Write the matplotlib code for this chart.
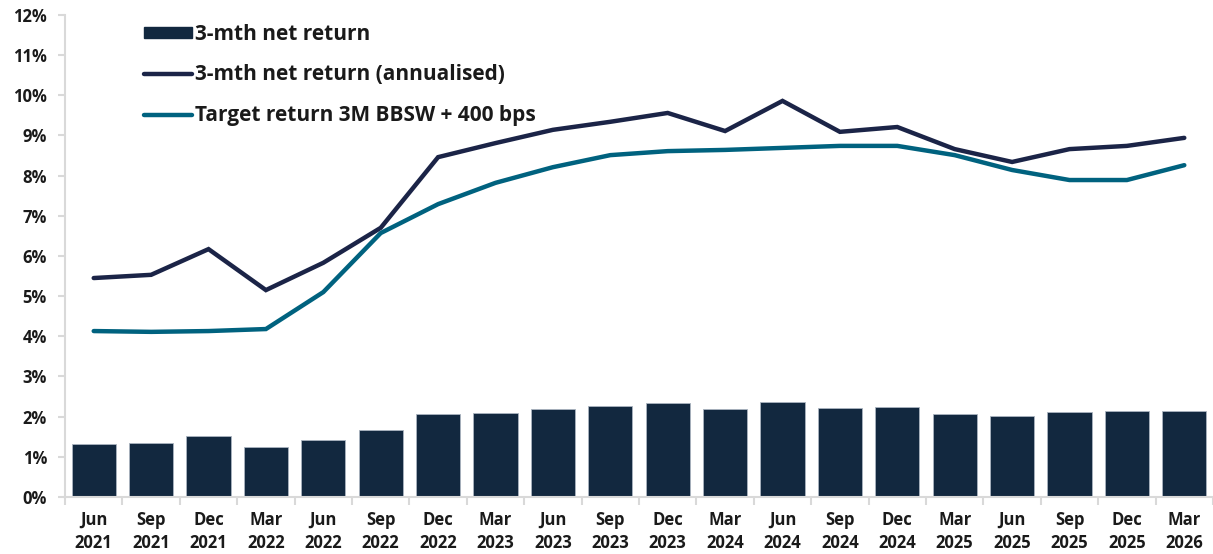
import matplotlib.pyplot as plt
import matplotlib.ticker as mtick
from matplotlib.patches import Patch
from matplotlib.lines import Line2D

plt.rcParams['font.family'] = ['Open Sans', 'DejaVu Sans']
plt.rcParams['font.weight'] = 'bold'

quarters = ["Jun\n2021", "Sep\n2021", "Dec\n2021", "Mar\n2022", "Jun\n2022", "Sep\n2022",
            "Dec\n2022", "Mar\n2023", "Jun\n2023", "Sep\n2023", "Dec\n2023", "Mar\n2024",
            "Jun\n2024", "Sep\n2024", "Dec\n2024", "Mar\n2025", "Jun\n2025", "Sep\n2025",
            "Dec\n2025", "Mar\n2026"]

net_return = [1.32, 1.34, 1.52, 1.24, 1.42, 1.67, 2.07, 2.09, 2.19, 2.27,
              2.34, 2.19, 2.37, 2.22, 2.24, 2.07, 2.02, 2.12, 2.14, 2.14]

net_annualised = [5.45, 5.53, 6.17, 5.15, 5.83, 6.70, 8.46, 8.81, 9.14, 9.34,
                  9.56, 9.11, 9.86, 9.09, 9.21, 8.66, 8.34, 8.66, 8.74, 8.94]

target_return = [4.13, 4.11, 4.13, 4.18, 5.10, 6.57, 7.29, 7.82, 8.21, 8.51,
                 8.61, 8.64, 8.69, 8.74, 8.74, 8.51, 8.14, 7.89, 7.89, 8.26]

BAR_COL = "#12283f"
LINE_COL = "#1b2447"
TARGET_COL = "#00627f"
AXIS_COL = "#d9d9d9"
TEXT_COL = "#1a1a1a"

fig = plt.figure(figsize=(12.13, 5.54), dpi=100)
ax = fig.add_axes([0.0536, 0.103, 0.9464, 0.870])

x = list(range(len(quarters)))
ax.bar(x, net_return, width=0.77, color=BAR_COL, edgecolor="#aab4c0", linewidth=0.6, zorder=2)
ax.plot(x, net_annualised, color=LINE_COL, linewidth=3.2, solid_capstyle="round",
        solid_joinstyle="miter", zorder=3)
ax.plot(x, target_return, color=TARGET_COL, linewidth=3.2, solid_capstyle="round",
        solid_joinstyle="miter", zorder=3)

ax.set_ylim(0, 12)
ax.set_xlim(-0.5, 19.4)
ax.yaxis.set_major_locator(mtick.MultipleLocator(1))
ax.yaxis.set_major_formatter(mtick.FuncFormatter(lambda v, p: f"{v:.0f}%"))

ax.set_xticks(x)
ax.set_xticklabels(quarters, fontsize=12, fontweight="bold", color=TEXT_COL, linespacing=1.35)
ax.set_xticks([i + 0.5 for i in range(-1, len(quarters))], minor=True)
ax.tick_params(axis="x", which="major", length=0, pad=10)
ax.tick_params(axis="x", which="minor", length=6, width=1.5, color=AXIS_COL)
ax.tick_params(axis="y", length=5, width=1.5, color=AXIS_COL, labelsize=12, pad=8,
               labelcolor=TEXT_COL)
for lab in ax.get_yticklabels():
    lab.set_fontweight("bold")

for side in ["top", "right"]:
    ax.spines[side].set_visible(False)
for side in ["left", "bottom"]:
    ax.spines[side].set_color(AXIS_COL)
    ax.spines[side].set_linewidth(1.5)

handles = [
    Patch(facecolor=BAR_COL, edgecolor=BAR_COL),
    Line2D([0], [0], color=LINE_COL, linewidth=3.2, solid_capstyle="round"),
    Line2D([0], [0], color=TARGET_COL, linewidth=3.2, solid_capstyle="round"),
]
labels = ["3-mth net return", "3-mth net return (annualised)", "Target return 3M BBSW + 400 bps"]
leg = ax.legend(handles, labels, loc="upper left", bbox_to_anchor=(0.0688, 0.982), frameon=False,
                fontsize=15, handlelength=2.3, handleheight=0.45, handletextpad=0.15,
                labelspacing=0.95, borderpad=0, borderaxespad=0)
for t in leg.get_texts():
    t.set_fontweight("bold")
    t.set_color(TEXT_COL)

fig.savefig("out.png", dpi=100)
